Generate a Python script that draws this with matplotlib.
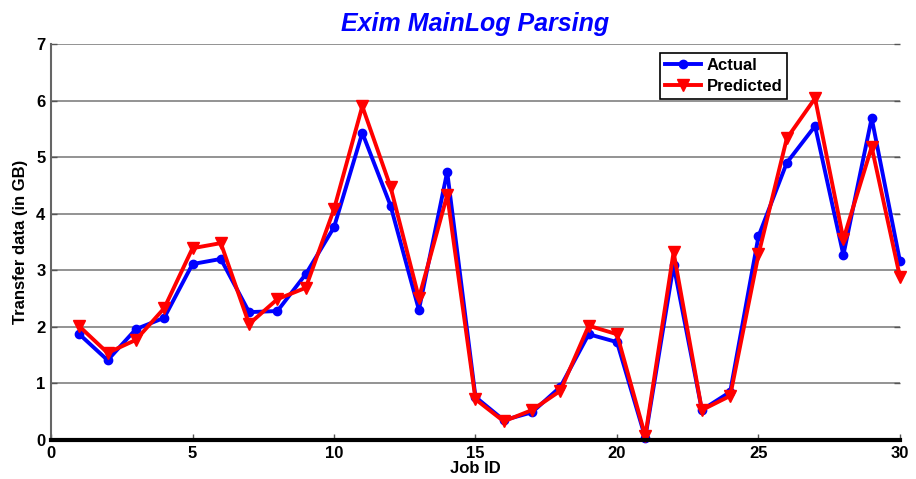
import matplotlib
matplotlib.use("Agg")
import matplotlib.pyplot as plt

plt.rcParams['font.family'] = ['Liberation Sans', 'DejaVu Sans']

job_ids = list(range(1, 31))
actual = [1.87, 1.41, 1.96, 2.16, 3.11, 3.20, 2.26, 2.28, 2.93, 3.76,
          5.43, 4.14, 2.30, 4.74, 0.76, 0.35, 0.49, 0.94, 1.87, 1.73,
          0.04, 3.09, 0.53, 0.85, 3.60, 4.90, 5.55, 3.27, 5.69, 3.16]
predicted = [2.01, 1.54, 1.77, 2.33, 3.39, 3.48, 2.05, 2.49, 2.69, 4.08,
             5.90, 4.47, 2.51, 4.33, 0.72, 0.33, 0.53, 0.87, 2.02, 1.87,
             0.07, 3.32, 0.53, 0.78, 3.28, 5.33, 6.04, 3.55, 5.18, 2.88]
x_ticks = [0, 5, 10, 15, 20, 25, 30]
y_ticks = [0, 1, 2, 3, 4, 5, 6, 7]

fig = plt.figure(figsize=(9.16, 4.79), dpi=100)
ax = fig.add_axes([0.0557, 0.0814, 0.9268, 0.8268])

ax.plot(job_ids, actual, color='#0000ff', lw=2.8, marker='o', ms=6,
        mfc='#0000ff', mec='#0000ff', label='Actual', zorder=3, clip_on=False)
ax.plot(job_ids, predicted, color='#ff0000', lw=2.8, marker='v', ms=9,
        mfc='#ff0000', mec='#ff0000', label='Predicted', zorder=4, clip_on=False)

ax.set_xlim(0, 30)
ax.set_ylim(0, 7)
ax.set_xticks(x_ticks)
ax.set_yticks(y_ticks)
ax.yaxis.grid(True, color='#808080', lw=1.2)
ax.set_axisbelow(True)

for side in ('top', 'right'):
    ax.spines[side].set_visible(False)
ax.spines['left'].set_color('#666666')
ax.spines['left'].set_linewidth(1.5)
ax.spines['bottom'].set_color('black')
ax.spines['bottom'].set_linewidth(3)
ax.spines['bottom'].set_zorder(5)

ax.tick_params(axis='both', direction='in', length=4, width=1,
               color='#555555', labelsize=12, pad=4)
ax.tick_params(axis='y', right=True)
for lab in ax.get_xticklabels() + ax.get_yticklabels():
    lab.set_fontweight('bold')

ax.set_xlabel('Job ID', fontsize=12, fontweight='bold', labelpad=0)
ax.set_ylabel('Transfer data (in GB)', fontsize=12, fontweight='bold', labelpad=6)
ax.set_title('Exim MainLog Parsing', fontsize=18, fontweight='bold',
             fontstyle='italic', color='#0000ff', pad=9)

leg = ax.legend(loc='upper left', bbox_to_anchor=(0.717, 0.977),
                prop={'weight': 'bold', 'size': 12}, frameon=True,
                fancybox=False, borderpad=0.3, handlelength=2.2,
                handletextpad=0.3, labelspacing=0.35, borderaxespad=0)
leg.get_frame().set_edgecolor('black')
leg.get_frame().set_linewidth(1.2)
leg.get_frame().set_alpha(1)

fig.savefig('out.png', dpi=100)
